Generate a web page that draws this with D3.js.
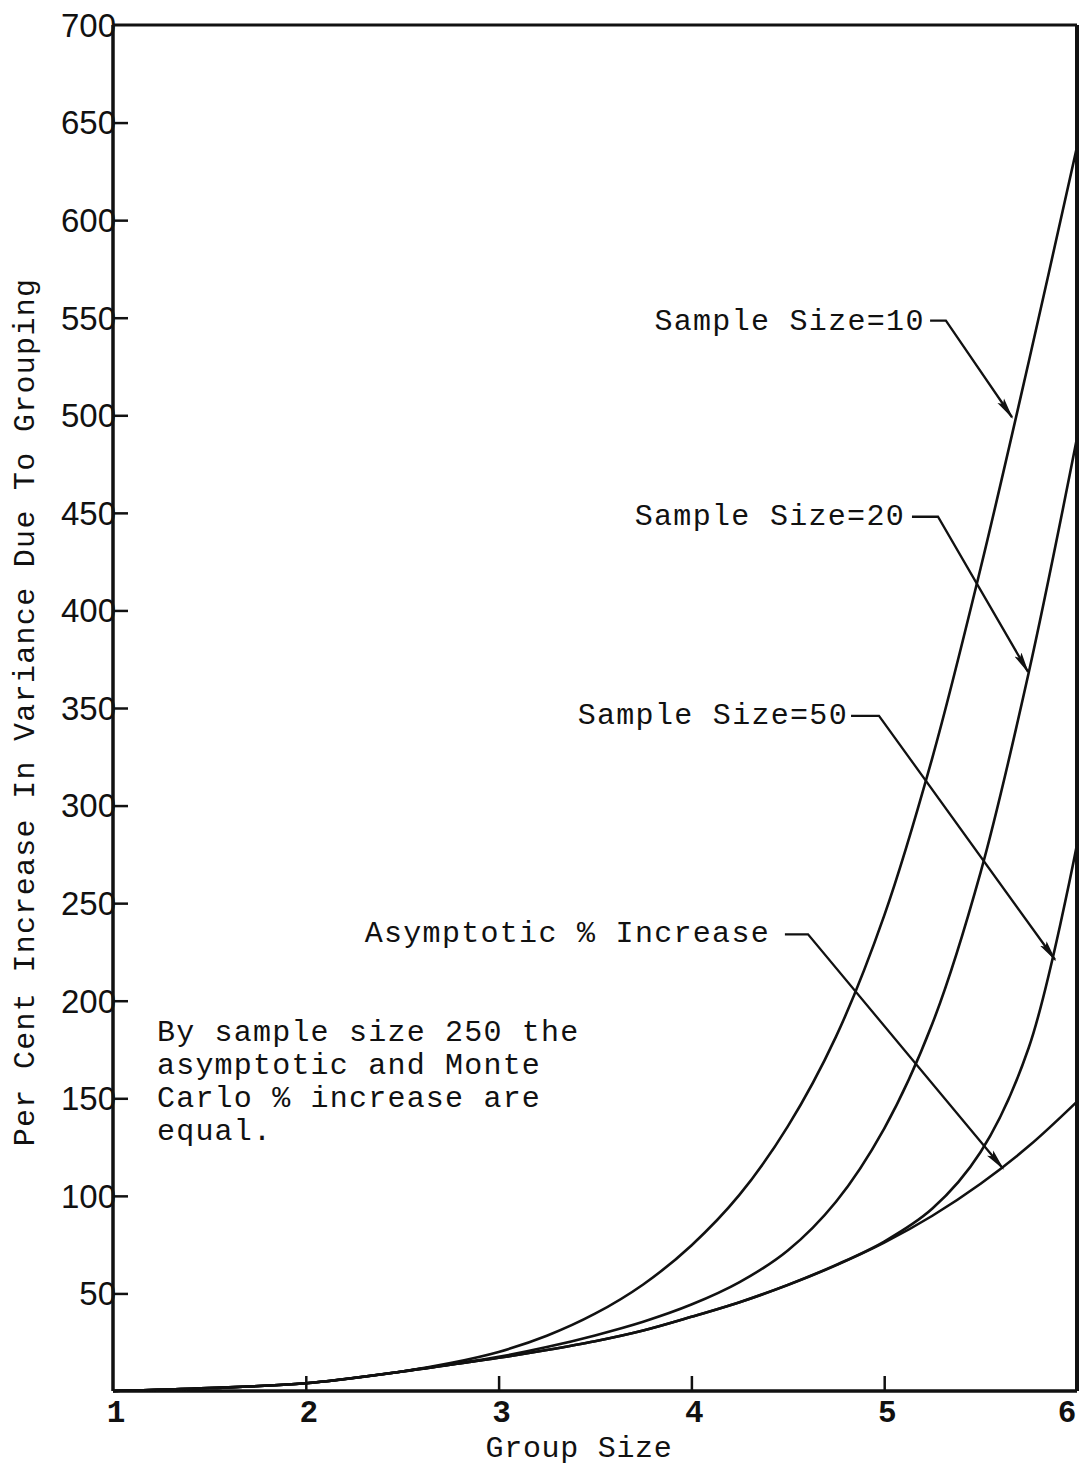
<!DOCTYPE html>
<html>
<head>
<meta charset="utf-8">
<script src="https://cdn.jsdelivr.net/npm/d3@7"></script>
<style>
  body { margin: 0; background: #fff; }
  text { fill: #111; }
  .tw { font-family: "Liberation Mono", "DejaVu Sans Mono", monospace; }
</style>
</head>
<body>
<svg id="chart" width="1084" height="1468"></svg>
<script>
// group size (x) and per cent increase in variance for each curve
var groupSize = [1, 1.5, 2, 2.5, 2.75, 3, 3.25, 3.5, 3.75, 4, 4.25, 4.5, 4.75, 5, 5.25, 5.5, 5.75, 6];
var size10    = [0, 1.5, 4, 10, 14.3, 20, 28.3, 39.6, 54.6, 74.6, 100.6, 135.6, 181.6, 243.6, 324.6, 421.6, 527.6, 637.6];
var size20    = [0, 1.5, 4, 10, 13.6, 17.5, 22.5, 28.5, 35.5, 44.3, 55.8, 72, 97, 134.5, 188.3, 265.8, 368.3, 488.3];
var size50    = [0, 1.5, 4, 10, 13.5, 17, 21, 25.5, 31, 38, 45.5, 54.4, 64.6, 76.6, 93.5, 122.5, 176, 280];
var asymptot  = [0, 1.5, 4, 10, 13.5, 17, 21, 25.5, 31, 38, 45.5, 54.3, 64.4, 76, 89.8, 106.2, 125.5, 148.3];

var xTicks = [1, 2, 3, 4, 5, 6];
var yTicks = [50, 100, 150, 200, 250, 300, 350, 400, 450, 500, 550, 600, 650];

// labels: text end point, elbow and arrow tip, all in data units
var labels = ["Sample Size=10", "Sample Size=20", "Sample Size=50", "Asymptotic % Increase"];
var labelAt   = [[5.21, 549], [5.108, 449], [4.812, 347], [4.408, 235]];
var elbowFrom = [[5.238, 548.5], [5.144, 448], [4.828, 346], [4.485, 234]];
var elbowTo   = [[5.32, 548.5], [5.279, 448], [4.973, 346], [4.605, 234]];
var arrowTip  = [[5.663, 499], [5.746, 368.5], [5.886, 221], [5.616, 114]];

var note = ["By sample size 250 the", "asymptotic and Monte", "Carlo % increase are", "equal."];

var svg = d3.select("#chart");

var x = d3.scaleLinear().domain([1, 6]).range([113, 1077]);
var y = d3.scaleLinear().domain([0, 700]).range([1391, 25]);

var defs = svg.append("defs");
defs.append("marker")
	.attr("id", "arrow")
	.attr("viewBox", "0 -5 22 10")
	.attr("refX", 20)
	.attr("refY", 0)
	.attr("markerWidth", 22)
	.attr("markerHeight", 10)
	.attr("markerUnits", "userSpaceOnUse")
	.attr("orient", "auto")
	.append("path")
	.attr("d", "M0,-4L22,0L0,4L4,0Z")
	.attr("fill", "#111");

// frame
var frame = svg.append("g").attr("stroke", "#111").attr("fill", "none");
frame.append("line").attr("x1", x(1)).attr("x2", x(1)).attr("y1", y(700)).attr("y2", y(0)).attr("stroke-width", 3.5);
frame.append("line").attr("x1", x(1)).attr("x2", x(6)).attr("y1", y(700)).attr("y2", y(700)).attr("stroke-width", 3);
frame.append("line").attr("x1", x(6)).attr("x2", x(6)).attr("y1", y(700)).attr("y2", y(0)).attr("stroke-width", 4);
frame.append("line").attr("x1", x(1)).attr("x2", x(6)).attr("y1", y(0)).attr("y2", y(0)).attr("stroke-width", 3.5);

// y ticks (inward) and labels
var yAxis = d3.axisRight(y).tickValues(yTicks).tickSize(15).tickFormat("");
svg.append("g").attr("transform", "translate(" + x(1) + ",0)").call(yAxis)
	.call(function (g) { g.select(".domain").remove(); })
	.selectAll("line").attr("stroke", "#111").attr("stroke-width", 2.5);

svg.append("g").selectAll("text")
	.data(yTicks.concat([700]))
	.enter().append("text")
	.attr("x", x(1) + 3)
	.attr("y", function (d) { return y(d); })
	.attr("dy", "0.36em")
	.attr("text-anchor", "end")
	.style("font-family", "'Liberation Sans', Arial, sans-serif")
	.style("font-size", "33px")
	.text(function (d) { return d; });

// x ticks (inward) and labels
var xAxis = d3.axisTop(x).tickValues([2, 3, 4, 5]).tickSize(15).tickFormat("");
svg.append("g").attr("transform", "translate(0," + y(0) + ")").call(xAxis)
	.call(function (g) { g.select(".domain").remove(); })
	.selectAll("line").attr("stroke", "#111").attr("stroke-width", 2.5);

svg.append("g").selectAll("text")
	.data(xTicks)
	.enter().append("text")
	.attr("class", "tw")
	.attr("x", function (d) { return Math.min(x(d) + 3, x(6) - 10); })
	.attr("y", y(0) + 31)
	.attr("text-anchor", "middle")
	.style("font-size", "31px")
	.style("font-weight", "bold")
	.text(function (d) { return d; });

// axis titles
svg.append("text")
	.attr("class", "tw")
	.attr("x", 579)
	.attr("y", 1457)
	.attr("text-anchor", "middle")
	.style("font-size", "30px")
	.style("letter-spacing", "0.7px")
	.text("Group Size");

svg.append("text")
	.attr("class", "tw")
	.attr("transform", "translate(34," + 712 + ") rotate(-90)")
	.attr("text-anchor", "middle")
	.style("font-size", "30px")
	.style("letter-spacing", "1.3px")
	.text("Per Cent Increase In Variance Due To Grouping");

// curves
var line = d3.line()
	.x(function (d) { return x(d[0]); })
	.y(function (d) { return y(d[1]); })
	.curve(d3.curveCatmullRom.alpha(0.5));

[size10, size20, size50, asymptot].forEach(function (series) {
	svg.append("path")
		.datum(d3.zip(groupSize, series))
		.attr("d", line)
		.attr("fill", "none")
		.attr("stroke", "#111")
		.attr("stroke-width", 2.6);
});

// labels with leader arrows
for (var i = 0 ; i < labels.length ; ++i) {
	svg.append("text")
		.attr("class", "tw")
		.attr("x", x(labelAt[i][0]))
		.attr("y", y(labelAt[i][1]))
		.attr("dy", "0.33em")
		.attr("text-anchor", "end")
		.style("font-size", "30px")
		.style("letter-spacing", "1.3px")
		.text(labels[i]);

	svg.append("path")
		.datum([elbowFrom[i], elbowTo[i], arrowTip[i]])
		.attr("d", d3.line().x(function (d) { return x(d[0]); }).y(function (d) { return y(d[1]); }))
		.attr("fill", "none")
		.attr("stroke", "#111")
		.attr("stroke-width", 2.3)
		.attr("marker-end", "url(#arrow)");
}

// note
svg.append("g").selectAll("text")
	.data(note)
	.enter().append("text")
	.attr("class", "tw")
	.attr("x", 157)
	.attr("y", function (d, i) { return 1041 + i * 33; })
	.style("font-size", "30px")
	.style("letter-spacing", "1.2px")
	.text(function (d) { return d; });
</script>
</body>
</html>
